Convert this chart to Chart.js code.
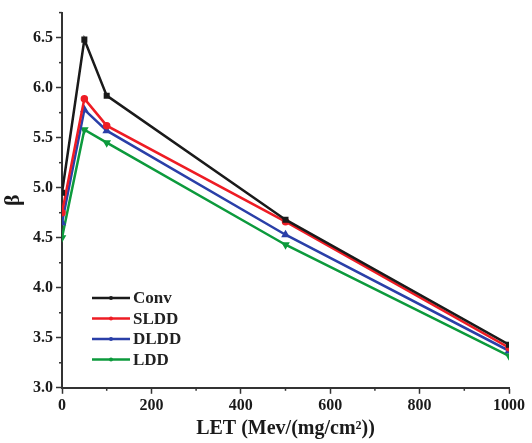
<!DOCTYPE html>
<html>
<head>
<meta charset="utf-8">
<script src="https://cdn.jsdelivr.net/npm/chart.js@4/dist/chart.umd.min.js"></script>
<style>
  html, body { margin: 0; padding: 0; background: #fff; }
  #wrap { width: 532px; height: 443px; }
</style>
</head>
<body>
<div id="wrap"><canvas id="beta-chart" width="532" height="443"></canvas></div>
<script>
// LET values (x)
const letValues = [0, 50, 100, 500, 1000];

// beta values
const convBeta = [4.95, 6.48, 5.92, 4.68, 3.43];
const slddBeta = [4.75, 5.89, 5.62, 4.66, 3.40];
const dlddBeta = [4.65, 5.78, 5.57, 4.53, 3.37];
const lddBeta  = [4.50, 5.58, 5.45, 4.43, 3.32];

const seriesNames = ['Conv', 'SLDD', 'DLDD', 'LDD'];
const xTicks = [0, 200, 400, 600, 800, 1000];
const yTicks = [3.0, 3.5, 4.0, 4.5, 5.0, 5.5, 6.0, 6.5];

const FONT = '"Liberation Serif", "Times New Roman", serif';
const AXIS_COLOR = '#333';

function toPoints(ys) {
  return letValues.map((x, i) => ({ x, y: ys[i] }));
}

// minor ticks, drawn halfway between the major ones
const minorTicks = {
  id: 'minorTicks',
  afterDraw(chart) {
    const { ctx, scales: { x, y } } = chart;
    ctx.save();
    ctx.strokeStyle = AXIS_COLOR;
    ctx.lineWidth = 1.5;
    for (let v = 100; v < 1000; v += 200) {
      const px = x.getPixelForValue(v);
      ctx.beginPath();
      ctx.moveTo(px, x.top);
      ctx.lineTo(px, x.top + 3);
      ctx.stroke();
    }
    for (let v = 3.25; v < 6.8; v += 0.5) {
      const py = y.getPixelForValue(v);
      ctx.beginPath();
      ctx.moveTo(y.right, py);
      ctx.lineTo(y.right - 3, py);
      ctx.stroke();
    }
    ctx.restore();
  }
};

// legend drawn inside the plot, lower left
const innerLegend = {
  id: 'innerLegend',
  afterDraw(chart) {
    const { ctx } = chart;
    const left = 92, top = 298, rowH = 20.5, lineLen = 38;
    ctx.save();
    ctx.font = 'bold 17px ' + FONT;
    ctx.textBaseline = 'middle';
    chart.data.datasets.forEach((ds, i) => {
      const yy = top + i * rowH;
      ctx.strokeStyle = ds.borderColor;
      ctx.lineWidth = 2.5;
      ctx.beginPath();
      ctx.moveTo(left, yy);
      ctx.lineTo(left + lineLen, yy);
      ctx.stroke();
      ctx.fillStyle = ds.borderColor;
      ctx.beginPath();
      ctx.arc(left + lineLen / 2, yy, 2, 0, Math.PI * 2);
      ctx.fill();
      ctx.fillStyle = '#222';
      ctx.fillText(ds.label, left + lineLen + 3, yy + 1);
    });
    ctx.restore();
  }
};

function makeDataset(label, ys, color, style, rotation) {
  return {
    label,
    data: toPoints(ys),
    borderColor: color,
    backgroundColor: color,
    borderWidth: 2.5,
    pointStyle: style,
    pointRotation: rotation || 0,
    pointRadius: 2.5,
    tension: 0
  };
}

function drawChart() {
  const canvas = document.getElementById('beta-chart');
  new Chart(canvas, {
    type: 'line',
    data: {
      datasets: [
        makeDataset(seriesNames[0], convBeta, '#1a1a1a', 'rect'),
        makeDataset(seriesNames[1], slddBeta, '#ee1c24', 'circle'),
        makeDataset(seriesNames[2], dlddBeta, '#2a3fa8', 'triangle'),
        makeDataset(seriesNames[3], lddBeta, '#0c9a3c', 'triangle', 180)
      ]
    },
    options: {
      responsive: false,
      animation: false,
      layout: { padding: { left: 0, right: 23, top: 10, bottom: 2 } },
      plugins: { legend: { display: false }, tooltip: { enabled: false } },
      scales: {
        x: {
          type: 'linear',
          min: 0,
          max: 1000,
          afterBuildTicks: s => { s.ticks = xTicks.map(v => ({ value: v })); },
          grid: { drawOnChartArea: false, tickLength: 6, tickColor: AXIS_COLOR, tickWidth: 1.5 },
          border: { color: AXIS_COLOR, width: 2 },
          ticks: {
            color: '#1a1a1a',
            font: { family: FONT, size: 16, weight: 'bold' },
            padding: 2,
            maxRotation: 0,
            callback: v => String(v)
          },
          title: {
            display: true,
            text: 'LET (Mev/(mg/cm²))',
            color: '#1a1a1a',
            font: { family: FONT, size: 20, weight: 'bold' },
            padding: { top: 0, bottom: 0 }
          }
        },
        y: {
          type: 'linear',
          min: 3.0,
          max: 6.75,
          afterBuildTicks: s => { s.ticks = yTicks.map(v => ({ value: v })); },
          afterFit: s => { s.width = 62; },
          grid: { drawOnChartArea: false, tickLength: 6, tickColor: AXIS_COLOR, tickWidth: 1.5 },
          border: { color: AXIS_COLOR, width: 2 },
          ticks: {
            color: '#1a1a1a',
            font: { family: FONT, size: 16, weight: 'bold' },
            padding: 3,
            callback: v => v.toFixed(1)
          },
          title: {
            display: true,
            text: 'β',
            color: '#1a1a1a',
            font: { family: FONT, size: 22, weight: 'bold' },
            padding: { top: 0, bottom: 0 }
          }
        }
      }
    },
    plugins: [minorTicks, innerLegend]
  });
}

drawChart();
</script>
</body>
</html>
